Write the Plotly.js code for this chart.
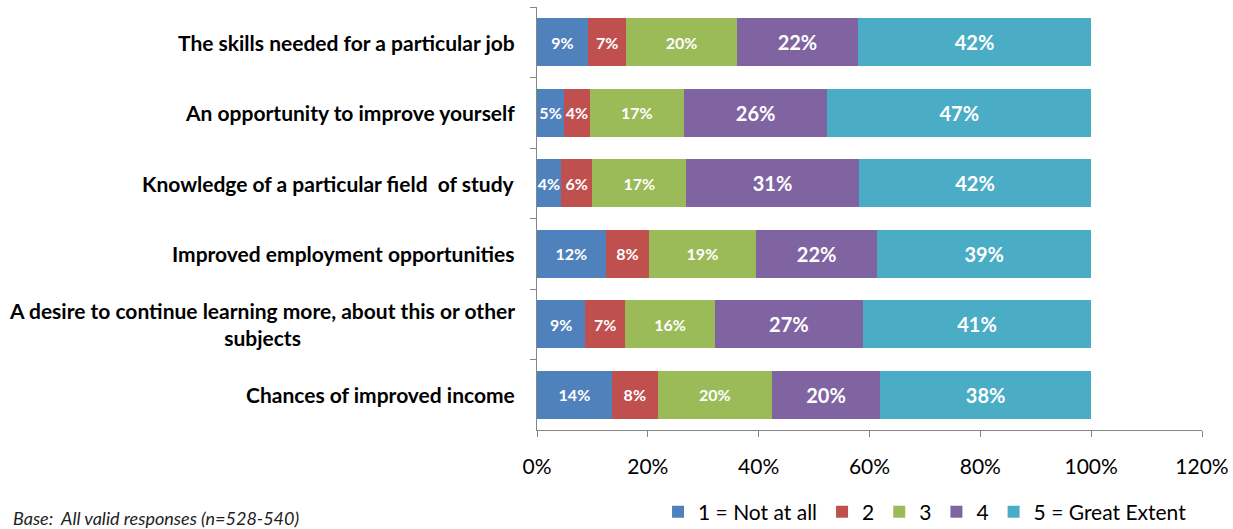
<!DOCTYPE html>
<html>
<head>
<meta charset="utf-8">
<script src="https://cdn.plot.ly/plotly-3.0.1.min.js"></script>
<style>html,body{margin:0;padding:0;background:#fff;}#chart{width:1233px;height:529px;}</style>
</head>
<body>
<div id="chart"></div>
<script>
const categories = [
  "The skills needed for a particular job",
  "An opportunity to improve yourself",
  "Knowledge of a particular field  of study",
  "Improved employment opportunities",
  "A desire to continue learning more, about this or other<br>subjects",
  "Chances of improved income"
];
const seriesNames = ["1 = Not at all", "2", "3", "4", "5 = Great Extent"];
const notAtAll   = [9.2, 4.9, 4.3, 12.4, 8.7, 13.5];
const two        = [6.9, 4.6, 5.7, 7.8, 7.2, 8.3];
const three      = [20.0, 17.0, 16.9, 19.3, 16.2, 20.6];
const four       = [21.8, 25.9, 31.2, 21.9, 26.7, 19.5];
const greatExtent= [42.1, 47.6, 41.9, 38.6, 41.2, 38.1];
const labels1 = ["9%", "5%", "4%", "12%", "9%", "14%"];
const labels2 = ["7%", "4%", "6%", "8%", "7%", "8%"];
const labels3 = ["20%", "17%", "17%", "19%", "16%", "20%"];
const labels4 = ["22%", "26%", "31%", "22%", "27%", "20%"];
const labels5 = ["42%", "47%", "42%", "39%", "41%", "38%"];
const xTickVals = [0, 20, 40, 60, 80, 100, 120];
const xTickText = ["0%", "20%", "40%", "60%", "80%", "100%", "120%"];
const footnote = "Base:  All valid responses (n=528-540)";

const FONT = "Lato, 'Open Sans', sans-serif";
const colors = ["#4F81BD", "#C0504D", "#9BBB59", "#8064A2", "#4BACC6"];
const values = [notAtAll, two, three, four, greatExtent];
const texts = [labels1, labels2, labels3, labels4, labels5];
const textSizes = [16, 16, 16, 20, 20];

const traces = values.map((v, i) => ({
  type: "bar",
  orientation: "h",
  name: seriesNames[i],
  y: categories,
  x: v,
  text: texts[i],
  texttemplate: "%{text}",
  textposition: "inside",
  insidetextanchor: "middle",
  constraintext: "none",
  textangle: 0,
  textfont: {family: FONT, size: textSizes[i], color: "#ffffff", weight: "bold"},
  marker: {color: colors[i], line: {width: 0}},
  hoverinfo: "skip"
}));

const annotations = categories.map(c => ({
  text: "<b>" + c + "</b>",
  xref: "paper", x: 0, xshift: -20, xanchor: "right",
  yref: "y", y: c, yanchor: "middle",
  align: "center", showarrow: false,
  font: {family: FONT, size: 21, color: "#000"}
}));
annotations.push({
  text: "<i>" + footnote + "</i>",
  xref: "paper", x: 0, xshift: -526, xanchor: "left",
  yref: "paper", y: 0, yshift: -88, yanchor: "middle",
  showarrow: false,
  font: {family: FONT, size: 18, color: "#222"}
});

const layout = {
  width: 1233, height: 529,
  margin: {l: 537, r: 31, t: 7, b: 99, autoexpand: false},
  barmode: "stack",
  bargap: 0.32,
  paper_bgcolor: "#fff", plot_bgcolor: "#fff",
  showlegend: true,
  legend: {
    orientation: "h", xref: "container", yref: "container",
    x: 0.5337, xanchor: "left", y: 0.032, yanchor: "middle",
    font: {family: FONT, size: 21, color: "#000"},
    traceorder: "normal", itemwidth: 30
  },
  xaxis: {
    range: [0, 120], tickvals: xTickVals, ticktext: xTickText,
    showgrid: false, zeroline: false,
    showline: true, linecolor: "#868686", linewidth: 1,
    ticks: "outside", ticklen: 6, tickcolor: "#868686",
    tickfont: {family: FONT, size: 21, color: "#000"},
    ticklabelstandoff: 12,
    fixedrange: true
  },
  yaxis: {
    type: "category", autorange: "reversed",
    showticklabels: false,
    showgrid: false, zeroline: false,
    showline: true, linecolor: "#868686", linewidth: 1,
    ticks: "outside", ticklen: 6, tickcolor: "#868686",
    tickson: "boundaries",
    fixedrange: true
  },
  annotations: annotations
};

Plotly.newPlot("chart", traces, layout, {staticPlot: true, displayModeBar: false});
</script>
</body>
</html>
